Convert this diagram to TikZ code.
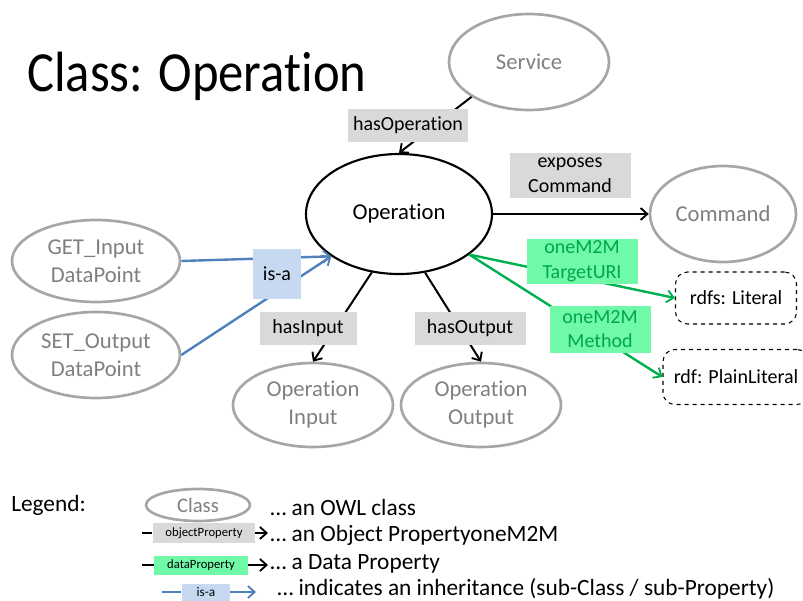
\documentclass[tikz,border=0pt]{standalone}
\usepackage{fontspec}
\setmainfont{Carlito}[Ligatures=NoCommon]
\usetikzlibrary{shapes.geometric,arrows.meta}
\definecolor{clsline}{HTML}{A6A6A6}
\definecolor{clstext}{HTML}{7F7F7F}
\definecolor{propfill}{HTML}{D9D9D9}
\definecolor{isaline}{HTML}{4F81BD}
\definecolor{isafill}{HTML}{C6D9F1}
\definecolor{dline}{HTML}{00B050}
\definecolor{dfill}{HTML}{70FAA8}
\definecolor{dtext}{HTML}{00A550}
\tikzset{
  cls/.style={ellipse,draw=clsline,line width=2pt,text=clstext,inner sep=0pt,align=center,font=\fontsize{17}{21}\selectfont},
  opcls/.style={ellipse,draw=black,line width=1.6pt,inner sep=0pt,align=center,font=\fontsize{17}{21}\selectfont},
  oprop/.style={rectangle,fill=propfill,inner sep=0pt,align=center,font=\fontsize{15}{18.5}\selectfont},
  dprop/.style={rectangle,fill=dfill,text=dtext,inner sep=0pt,align=center,font=\fontsize{15}{18.5}\selectfont},
  isabox/.style={rectangle,fill=isafill,inner sep=0pt,align=center,font=\fontsize{15}{18}\selectfont},
  literal/.style={rectangle,draw=black,dashed,line width=0.8pt,rounded corners=9pt,inner sep=0pt,align=center,font=\fontsize{15}{18}\selectfont},
  tip/.style={-{Straight Barb[length=5pt,width=9pt,line width=1.4pt]}},
  oline/.style={tip,line width=1.5pt,black},
  dlinek/.style={tip,line width=1.8pt,dline},
  iline/.style={tip,line width=1.8pt,isaline},
  legtext/.style={anchor=west,inner sep=0pt,font=\fontsize{17.5}{20}\selectfont},
}
\begin{document}
\begin{tikzpicture}[x=0.75pt,y=-0.75pt]
\useasboundingbox (0,0) rectangle (803,600);
% title
\node[anchor=west,inner sep=0pt,font=\fontsize{38}{44}\selectfont] (title) at (27,76) {\scalebox{1}[1.12]{Class: Operation}};
% classes
\node[cls,minimum width=120pt,minimum height=72pt] (svc) at (529,62) {Service};
\node[opcls,minimum width=139.5pt,minimum height=90pt] (op) at (399,214) {Operation};
\node[cls,minimum width=109.5pt,minimum height=72pt] (cmd) at (723,214) {Command};
\node[cls,minimum width=126pt,minimum height=61.5pt] (get) at (96,261) {GET\_Input\\DataPoint};
\node[cls,minimum width=126pt,minimum height=64.5pt] (set) at (96,355) {SET\_Output\\DataPoint};
\node[cls,minimum width=120pt,minimum height=63pt] (opin) at (313,405) {Operation\\Input};
\node[cls,minimum width=120pt,minimum height=63pt] (opout) at (481,405) {Operation\\Output};
\node[literal,minimum width=90.75pt,minimum height=39pt] (lit) at (736,298) {rdfs: Literal};
\node[literal,minimum width=109.5pt,minimum height=41.25pt] (plain) at (736,377) {rdf: PlainLiteral};
% connectors
\draw[oline] (svc.south west) -- (op.north);
\draw[oline] (op.east) -- (cmd.west);
\draw[oline] (op.245) -- (opin.north);
\draw[oline] (op.294) -- (opout.north);
\draw[dlinek] (op.330) -- (lit.west);
\draw[dlinek] (op.330) -- (plain.west);
\draw[iline] (get.east) -- (op.212);
\draw[iline] (set.east) -- (op.212);
% labels
\node[oprop,minimum width=90pt,minimum height=24.75pt] (lhasop) at (408,125) {hasOperation};
\node[oprop,minimum width=90.75pt,minimum height=33.75pt] (lexp) at (570,175) {exposes\\Command};
\node[isabox,minimum width=36pt,minimum height=37.5pt] (lisa) at (277,274) {is-a};
\node[oprop,minimum width=72.75pt,minimum height=24.75pt] (lhasin) at (308,328) {hasInput};
\node[oprop,minimum width=83.25pt,minimum height=24.75pt] (lhasout) at (470,328) {hasOutput};
\node[dprop,minimum width=83.25pt,minimum height=33.75pt] (ltgt) at (582,261) {oneM2M\\TargetURI};
\node[dprop,minimum width=75.75pt,minimum height=35.25pt] (lmeth) at (600,329) {oneM2M\\Method};
% legend
\node[legtext] (leg) at (11,505) {Legend:};
\node[cls,minimum width=78pt,minimum height=24pt,font=\fontsize{15.5}{18}\selectfont] (legcls) at (198,505) {Class};
\node[legtext] (legt1) at (270,507) {… an OWL class};
% object property
\node[oprop,minimum width=76.5pt,minimum height=15pt,font=\fontsize{9.5}{11}\selectfont] (legop) at (204,533) {objectProperty};
\coordinate (legopa) at (142,533);
\coordinate (legopb) at (152,533);
\coordinate (legopc) at (268,533);
\draw[line width=1.5pt] (legopa) -- (legopb);
\draw[oline] (legop.east) -- (legopc);
\node[legtext] (legt2) at (270,535) {… an Object PropertyoneM2M};
% data property
\node[dprop,minimum width=70.5pt,minimum height=14.25pt,text=black,font=\fontsize{9.5}{11}\selectfont] (legdp) at (201,565) {dataProperty};
\coordinate (legdpa) at (142,565);
\coordinate (legdpb) at (154,565);
\coordinate (legdpc) at (268,565);
\draw[line width=1.5pt] (legdpa) -- (legdpb);
\draw[oline] (legdp.east) -- (legdpc);
\node[legtext] (legt3) at (270,564) {… a Data Property};
% is-a
\node[isabox,minimum width=36pt,minimum height=12.75pt,font=\fontsize{10}{11}\selectfont] (legisa) at (206,592) {is-a};
\coordinate (legisaa) at (162,592);
\coordinate (legisab) at (181,592);
\coordinate (legisac) at (256,592);
\draw[line width=1.8pt,isaline] (legisaa) -- (legisab);
\draw[iline,line width=1.5pt] (legisa.east) -- (legisac);
\node[legtext] (legt4) at (277,589) {… indicates an inheritance (sub-Class / sub-Property)};
\end{tikzpicture}
\end{document}
